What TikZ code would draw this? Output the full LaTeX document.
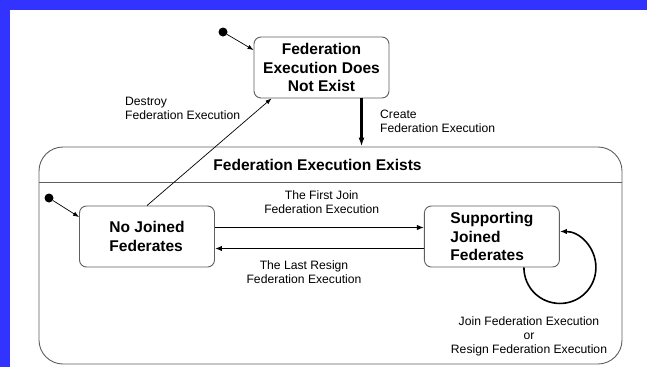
\documentclass[tikz,border=0pt]{standalone}
\usepackage{fontspec}
\setmainfont{Liberation Sans}
\usetikzlibrary{arrows.meta,positioning}
\definecolor{framebl}{RGB}{51,51,255}
\definecolor{boxgray}{RGB}{95,95,95}

\begin{document}
\begin{tikzpicture}[
		x=1bp, y=-1bp,
		every node/.style={font=\fontsize{12.2}{14}\selectfont},
		state/.style={
				draw=boxgray,
				line width=0.9bp,
				rounded corners=7bp,
				align=left,
				minimum width=135bp,
				minimum height=61bp,
				inner sep=0pt,
				font=\fontsize{15.6}{19}\selectfont\bfseries
		},
		initial/.style={circle, fill=black, inner sep=0pt, minimum size=9bp},
		lbl/.style={align=center, inner sep=0pt},
		arrow/.style={-{Latex[length=7bp,width=5.5bp]}, line width=1.6bp},
		thinarrow/.style={-{Latex[length=6bp,width=4.5bp]}, line width=0.7bp}
]

		% Frame
		\fill[framebl] (0,0) rectangle (647,367);
		\fill[white] (10,10) rectangle (647,367);

		% Outer composite state
		\node[draw=boxgray, line width=0.9bp, rounded corners=24bp,
				minimum width=583bp, minimum height=217bp, inner sep=0pt] (exists) at (330.5,255.5) {};
		\node[font=\fontsize{15.6}{19}\selectfont\bfseries] (existstitle) at (317.5,165) {Federation Execution Exists};
		\coordinate (divider) at (0,182);
		\draw[boxgray, line width=0.9bp] (exists.west |- divider) -- (exists.east |- divider);

		% States
		\node[state, align=center] (fedno) at (321.5,67.5) {Federation\\Execution Does\\Not Exist};
		\node[state] (nojoin) at (147,236.5) {No Joined\\Federates};
		\node[state, right=209bp of nojoin] (support) {Supporting\\Joined\\Federates};

		% Initial pseudostates
		\node[initial] (start) at (223,32) {};
		\node[initial] (startin) at (49,198) {};

		% Labels
		\node[lbl, align=left, anchor=west] (destroylbl) at (125,108.5) {Destroy\\Federation Execution};
		\node[lbl, align=left, anchor=west] (createlbl) at (380,121) {Create\\Federation Execution};
		\node[lbl] (firstlbl) at (321.7,202.5) {The First Join\\Federation Execution};
		\node[lbl] (lastlbl) at (304,272.5) {The Last Resign\\Federation Execution};
		\node[lbl] (looplbl) at (529,336.5) {Join Federation Execution\\or\\Resign Federation Execution};

		% Arrows
		\draw[thinarrow] (start) -- ([yshift=17.5bp]fedno.west);
		\draw[thinarrow] (startin) -- ([yshift=19.5bp]nojoin.west);
		\draw[-{Latex[length=9bp,width=6bp]}, line width=2.4bp] ([xshift=40bp]fedno.south) -- ([xshift=40bp]fedno.south |- exists.north);
		\draw[thinarrow] (nojoin.north) -- ([xshift=-50bp]fedno.south);

		\draw[arrow] ([yshift=9bp]nojoin.east) -- ([yshift=9bp]nojoin.east -| support.west);
		\draw[arrow] ([yshift=-12bp]nojoin.east -| support.west) -- ([yshift=-12bp]nojoin.east);

		% Self transition
		\draw[arrow] ([xshift=32bp]support.south)
				.. controls +(0,20) and +(-20,0) .. ++(36,36)
				.. controls +(20,0) and +(0,20) .. ++(36,-36)
				.. controls +(0,-20) and +(20,0) .. ++(-36,-36);

\end{tikzpicture}
\end{document}
